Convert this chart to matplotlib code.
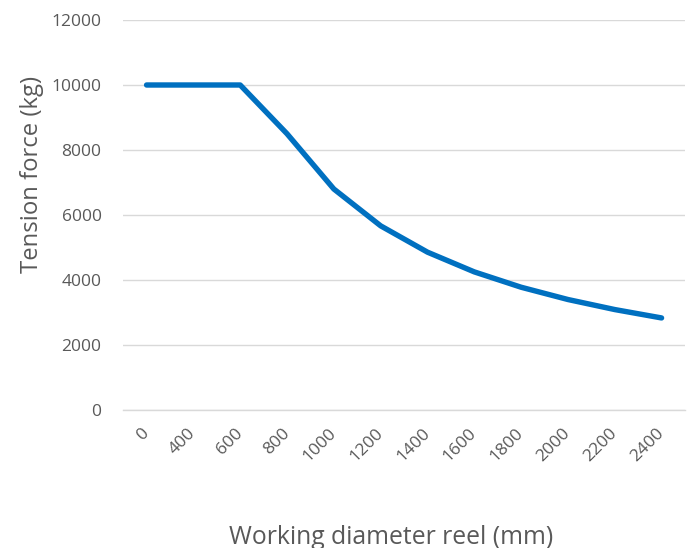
import matplotlib
matplotlib.use("Agg")
import matplotlib.pyplot as plt

categories = ["0", "400", "600", "800", "1000", "1200", "1400", "1600", "1800", "2000", "2200", "2400"]
tension = [10000, 10000, 10000, 8500, 6800, 5667, 4857, 4250, 3778, 3400, 3091, 2833]
yticks = [0, 2000, 4000, 6000, 8000, 10000, 12000]

plt.rcParams['font.family'] = ['Open Sans', 'DejaVu Sans']

fig = plt.figure(figsize=(6.88, 5.48), dpi=100)
ax = fig.add_axes([0.179, 0.2518, 0.8166, 0.7117])

x = list(range(len(categories)))
ax.plot(x, tension, color="#0070C0", linewidth=3.9, solid_capstyle="round", solid_joinstyle="round", zorder=3)

ax.set_xlim(-0.5, len(categories) - 0.5)
ax.set_ylim(0, 12000)
ax.set_yticks(yticks)
ax.set_yticklabels([str(v) for v in yticks], fontsize=12.5, color="#595959")
ax.set_xticks(x)
ax.set_xticklabels(categories, fontsize=12.5, color="#595959", rotation=45,
                   ha="right", va="center", rotation_mode="anchor")
ax.tick_params(axis="both", length=0)
ax.tick_params(axis="y", pad=15.5)
ax.tick_params(axis="x", pad=15)

ax.grid(axis="y", color="#D9D9D9", linewidth=1)
for s in ["top", "right", "left"]:
    ax.spines[s].set_visible(False)
ax.spines["bottom"].set_color("#D9D9D9")
ax.spines["bottom"].set_linewidth(1)
ax.set_axisbelow(True)

fig.text(0.046, 0.681, "Tension force (kg)", rotation=90, ha="center", va="center",
         fontsize=17.2, color="#595959")
fig.text(0.569, 0.02, "Working diameter reel (mm)", ha="center", va="center",
         fontsize=17.8, color="#595959")

fig.savefig("out.png", dpi=100)
